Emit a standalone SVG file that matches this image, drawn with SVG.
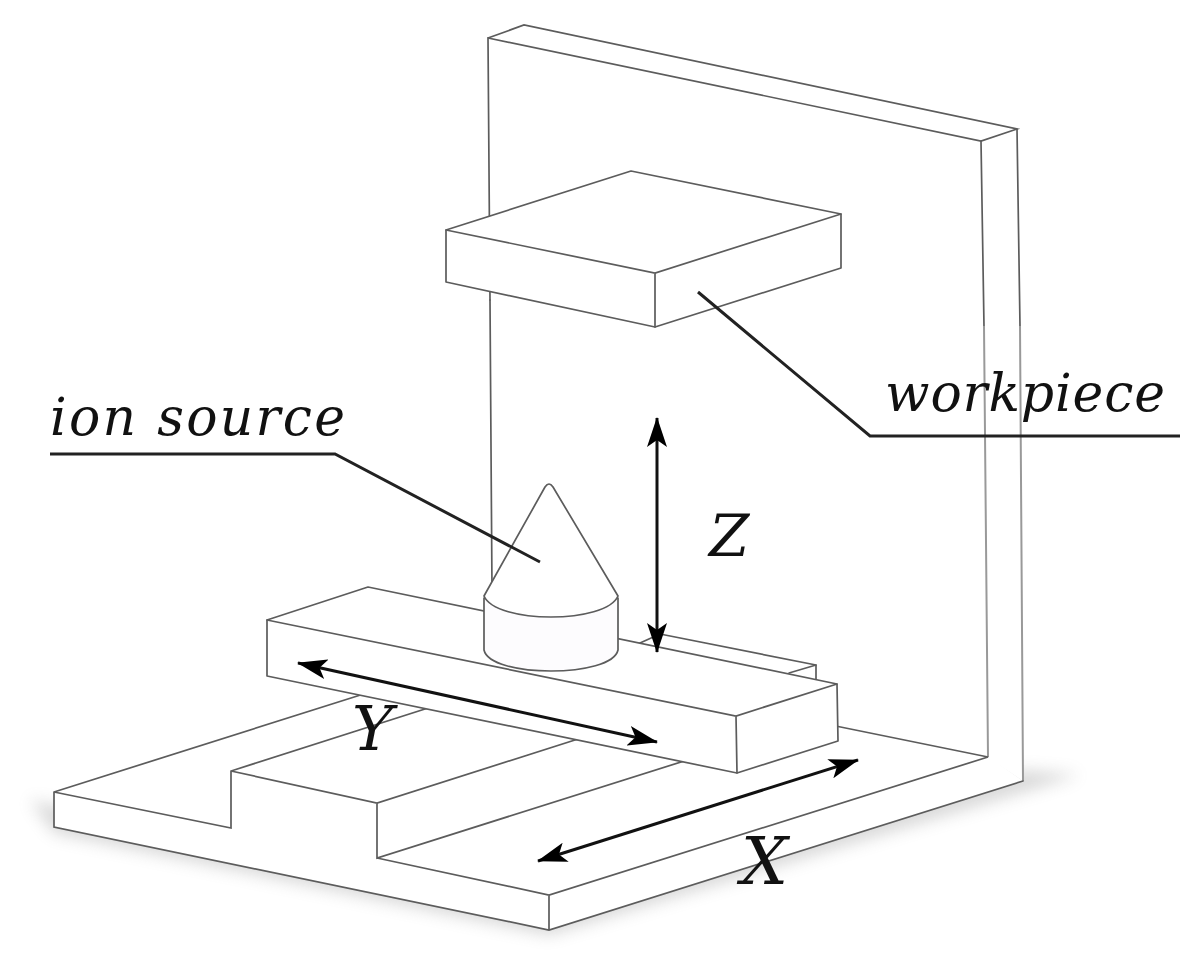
<svg xmlns="http://www.w3.org/2000/svg" width="1203" height="963" viewBox="0 0 1203 963">
<style>
.s{fill:#fff;stroke:#5c5c5c;stroke-width:1.7;stroke-linejoin:round}
.n{fill:#fff;stroke:none}
.l{fill:none;stroke:#5c5c5c;stroke-width:1.7;stroke-linecap:round}
.f{fill:none;stroke:#999;stroke-width:2}
.a{fill:none;stroke:#111;stroke-width:3}
.h{fill:#000}
.k{fill:none;stroke:#222;stroke-width:3}
text{font-family:"DejaVu Serif",serif;font-style:italic;fill:#111}
</style>
<defs>
<filter id="b" x="-10%" y="-30%" width="120%" height="160%"><feGaussianBlur stdDeviation="8"/></filter>
<marker id="ah" viewBox="0 0 30 20" refX="29" refY="10" markerWidth="30" markerHeight="20" markerUnits="userSpaceOnUse" orient="auto-start-reverse"><path class="h" d="M0 0L30 10L0 20L7 10Z"/></marker>
</defs>
<path id="shadow" d="M30 800L54 833L549 935L1080 775L1023 770L549 910Z" fill="#888" opacity=".32" filter="url(#b)"/>
<g id="wall">
<path class="n" d="M488 38L524 25L1017 129L1023 781L988 757L981 141Z"/>
<path class="l" d="M488 38L524 25L1017 129L981 141L488 38L490 300"/>
<path class="l" d="M490 300L492 590"/>
<path class="l" d="M981 141L984 326M1017 129L1020 326"/>
<path class="f" d="M984 326L988 757M1020 326L1023 781"/>
</g>
<g id="base">
<path class="n" d="M54 792L370 692L838 726L988 757L1023 781L549 930L54 827Z"/>
<path class="l" d="M54 792L370 692M54 792L54 827L549 930L1023 781M54 792L231 828L231 771L450 701M231 771L377 803L600 732M377 803L377 858L700 756M377 858L549 895L988 757L816 722M549 895L549 930"/>
</g>
<g id="rail">
<path class="s" d="M640 643L660 634L816 665L816 700L700 690Z"/>
<path class="l" d="M789 673L816 665"/>
</g>
<g id="carriage">
<path class="s" d="M267 620L368 587L837 684L838 741L737 773L267 676Z"/>
<path class="l" d="M267 620L736 716L837 684M736 716L737 773"/>
</g>
<g id="ion-source">
<path class="s" style="fill:#fdfcfe" d="M484 598L484 650C490 678 612 678 618 650L618 598Z"/>
<path class="s" d="M484 596L545 487Q549 481 553 487L618 596C606 624 496 624 484 596Z"/>
</g>
<g id="workpiece">
<path class="s" d="M446 230L631 171L841 214L841 268L655 327L446 282Z"/>
<path class="l" d="M446 230L655 273L841 214M655 273L655 327"/>
</g>
<g id="connectors">
<path class="k" d="M50 454L335 454L540 562"/>
<path class="k" d="M698 292L870 436L1180 436"/>
<path class="a" d="M657 418L657 652" marker-start="url(#ah)" marker-end="url(#ah)"/>
<path class="a" d="M298 663L657 742" marker-start="url(#ah)" marker-end="url(#ah)"/>
<path class="a" d="M538 861L858 760" marker-start="url(#ah)" marker-end="url(#ah)"/>
</g>
<g id="labels">
<text font-size="52" x="50" y="435" textLength="295" lengthAdjust="spacing">ion source</text>
<text font-size="52" x="885" y="411" textLength="280" lengthAdjust="spacing">workpiece</text>
<text x="709" y="556" font-size="58">Z</text>
<text x="352" y="750" font-size="62">Y</text>
<text x="741" y="884" font-size="66">X</text>
</g>
</svg>
